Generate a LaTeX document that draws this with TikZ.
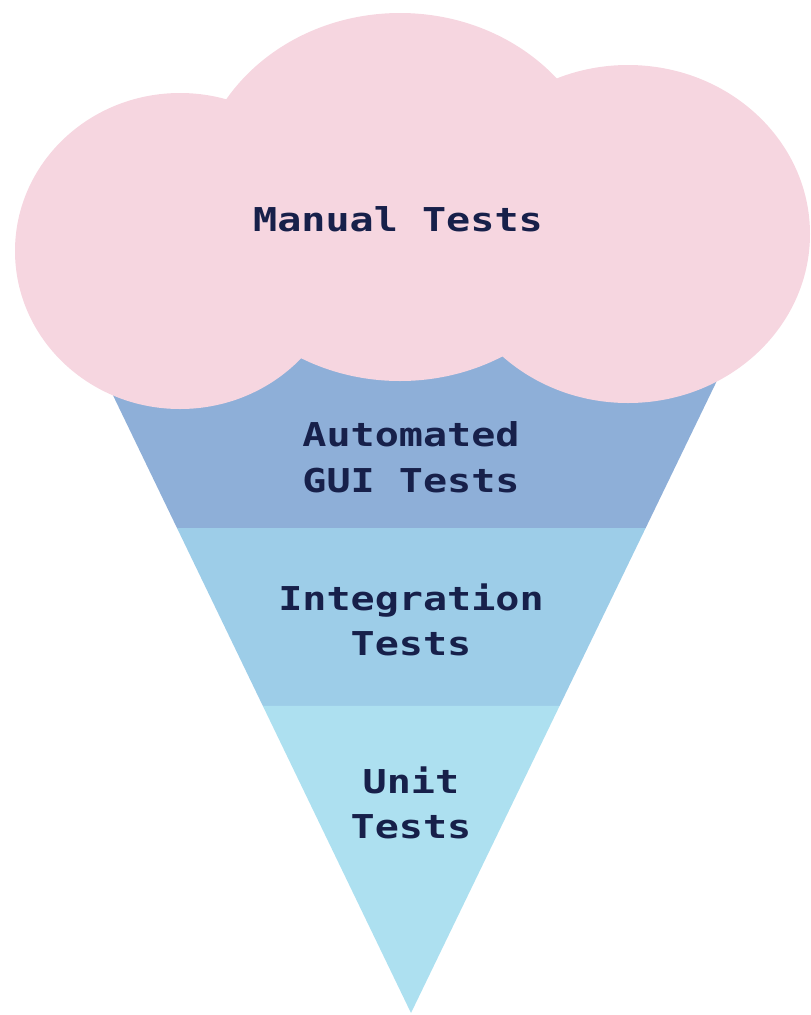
\documentclass[tikz,border=0pt]{standalone}
\usepackage{fontspec}
\usepackage{tikz}
\usetikzlibrary{calc}
\newfontfamily\conefont{DejaVu Sans Mono}[FakeStretch=1.22]
\definecolor{cloudpink}{HTML}{F6D6E0}
\definecolor{guiblue}{HTML}{8EAFD8}
\definecolor{intblue}{HTML}{9DCDE8}
\definecolor{unitblue}{HTML}{ADE0F0}
\definecolor{inkblue}{HTML}{17204A}
\tikzset{
  lobe/.style={fill=cloudpink,draw=none},
  testlabel/.style={align=center,inner sep=0pt,text=inkblue,
    font=\conefont\bfseries\fontsize{18.7pt}{25.9pt}\selectfont}
}

\begin{document}
\begin{tikzpicture}[x=0.02cm,y=-0.02cm]
\useasboundingbox (0,0) rectangle (811,1015);
\coordinate (tl) at (67,300);
\coordinate (tr) at (756,300);
\coordinate (apex) at (411,1013);
\coordinate (l1) at ($(tl)!0.3198!(apex)$);
\coordinate (r1) at ($(tr)!0.3198!(apex)$);
\coordinate (l2) at ($(tl)!0.5694!(apex)$);
\coordinate (r2) at ($(tr)!0.5694!(apex)$);

\fill[guiblue] (tl) -- (tr) -- (r1) -- (l1) -- cycle;
\fill[intblue] (l1) -- (r1) -- (r2) -- (l2) -- cycle;
\fill[unitblue] (l2) -- (r2) -- (apex) -- cycle;

\fill[lobe] (180,251) ellipse [x radius=165, y radius=158];
\fill[lobe] (400,197) ellipse [x radius=205, y radius=184];
\fill[lobe] (628,234) ellipse [x radius=182, y radius=169];

\node[testlabel] (manual) at (398,219) {Manual Tests};
\node[testlabel] (gui) at (411,457) {Automated\\GUI Tests};
\node[testlabel] (integration) at (411,620) {Integration\\Tests};
\node[testlabel] (unit) at (411,803) {Unit\\Tests};
\end{tikzpicture}
\end{document}
